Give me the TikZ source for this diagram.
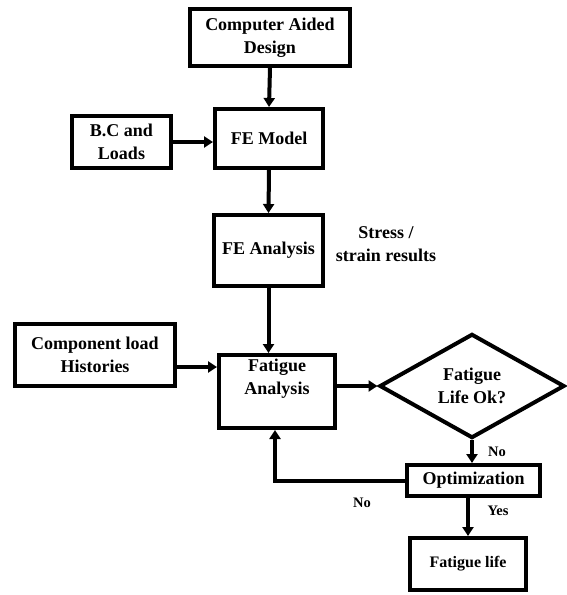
\documentclass[tikz,border=0pt]{standalone}
\usepackage{fontspec}
\setmainfont{Liberation Serif}
\usetikzlibrary{arrows.meta,shapes.geometric}
\begin{document}
\begin{tikzpicture}[x=1pt,y=-1pt,
  box/.style={draw,line width=4pt,inner sep=1pt,align=center,font=\bfseries\fontsize{18}{23}\selectfont},
  lbl/.style={inner sep=0pt,align=center,font=\bfseries\fontsize{18}{23}\selectfont},
  small/.style={inner sep=0pt,font=\bfseries\fontsize{14.5}{16}\selectfont},
  arr/.style={line width=4pt,-{Triangle[length=9pt,width=11pt]}}]
\useasboundingbox (0,0) rectangle (566,595);
\node[box,minimum width=160pt,minimum height=57pt] (cad) at (270,37.5) {Computer Aided\\Design};
\node[box,minimum width=108pt,minimum height=59pt] (fem) at (269,138.5) {FE Model};
\node[box,minimum width=99pt,minimum height=52pt] (bc) at (121.5,142) {B.C and\\Loads};
\node[box,minimum width=109pt,minimum height=71pt] (fea) at (268.5,250.5) {FE Analysis};
\node[lbl] (ss) at (386,244) {Stress /\\strain results};
\node[box,minimum width=160pt,minimum height=62pt] (cl) at (95,355) {Component load\\Histories};
\node[box,minimum width=116pt,minimum height=73pt] (fa) at (277,391.5) {Fatigue\\Analysis\\[6pt]};
\node[draw,diamond,line width=4pt,inner sep=0pt,minimum width=185pt,minimum height=97pt,align=center,font=\bfseries\fontsize{18}{23}\selectfont] (dia) at (472,386) {Fatigue\\Life Ok?};
\node[box,minimum width=133pt,minimum height=31pt] (opt) at (473.5,480.5) {Optimization};
\node[box,minimum width=116pt,minimum height=52pt,font=\bfseries\fontsize{16}{20}\selectfont] (fl) at (468,564) {Fatigue life};
\node[small] (no1) at (497,452) {No};
\node[small] (yes) at (498,511) {Yes};
\node[small] (no2) at (362,503) {No};
\draw[arr] (cad.south) -- (fem.north);
\draw[arr] (bc.east) -- (bc.east -| fem.west);
\draw[arr] (fem.south) -- (fea.north);
\draw[arr] (fea.south) -- (fea.south |- fa.north);
\draw[arr] (cl.east |- 0,367) -- (fa.west |- 0,367);
\draw[arr] (fa.east |- dia.west) -- (dia.west);
\draw[arr] (dia.south) -- (dia.south |- opt.north);
\draw[arr] (fl.north |- opt.south) -- (fl.north);
\draw[arr] (opt.west) -| ([xshift=-2pt]fa.south);
\end{tikzpicture}
\end{document}
